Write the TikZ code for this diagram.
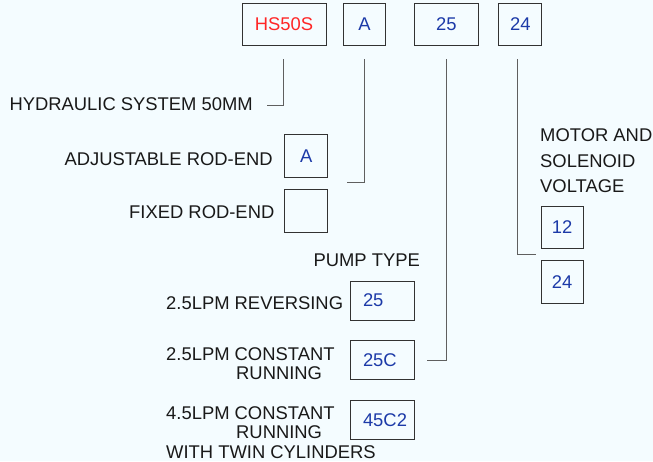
\documentclass[tikz,border=0pt]{standalone}
\usepackage{fontspec}
\setmainfont{Liberation Sans}
\usetikzlibrary{calc}
\definecolor{bgc}{RGB}{244,252,255}
\definecolor{redv}{RGB}{255,38,38}
\definecolor{bluev}{RGB}{28,58,168}
\definecolor{linec}{RGB}{95,95,95}
\definecolor{boxc}{RGB}{50,50,50}
\definecolor{txtc}{RGB}{25,25,25}
\begin{document}
\begin{tikzpicture}[x=1pt,y=-1pt,
  every node/.style={font=\fontsize{18.4}{22}\selectfont},
  codebox/.style={draw=boxc,line width=1pt,inner sep=0pt,minimum height=42pt,text=bluev},
  pumpbox/.style={draw=boxc,line width=1pt,inner ysep=0pt,inner xsep=12.3pt,text width=39pt,align=left,minimum height=39pt,text=bluev},
  lbl/.style={inner sep=0pt,anchor=base west,text=txtc},
  lead/.style={draw=linec,line width=1pt}]
\fill[bgc] (0,0) rectangle (653,461);
\useasboundingbox (0,0) rectangle (653,461);
% top code boxes
\node[codebox,minimum width=84pt,text=redv] (hs) at (284,24) {HS50S};
\node[codebox,minimum width=42.4pt] (a) at (364.5,24) {A};
\node[codebox,minimum width=64pt] (p) at (446.3,24) {25};
\node[codebox,minimum width=42.7pt] (v) at (520.3,24) {24};
% option boxes
\node[codebox,minimum width=42.7pt,minimum height=43pt] (adj) at (306.3,155.8) {A\hspace{4pt}};
\node[codebox,minimum width=42.7pt,minimum height=43pt] (fix) at (306.3,210.7) {};
\node[codebox,minimum width=42.3pt,minimum height=42.3pt] (v12) at (562.2,227.2) {12};
\node[codebox,minimum width=42.3pt,minimum height=42.3pt] (v24) at (562.2,282) {24};
\node[pumpbox] (p25) at (382.5,300.5) {25};
\node[pumpbox] (p25c) at (382.5,360) {25C};
\node[pumpbox] (p45) at (382.5,419.8) {45C2};
% labels
\node[lbl] (lhyd) at (9.3,110) {HYDRAULIC SYSTEM 50MM};
\node[lbl] (ladj) at (64.3,165) {ADJUSTABLE ROD-END};
\node[lbl] (lfix) at (129,218.5) {FIXED ROD-END};
\node[lbl] (lmot1) at (540,141) {MOTOR AND};
\node[lbl] (lmot2) at (540,167) {SOLENOID};
\node[lbl] (lmot3) at (540,192.5) {VOLTAGE};
\node[lbl] (lpump) at (313.3,266.7) {PUMP TYPE};
\node[lbl] (lrev) at (166,309.3) {2.5LPM REVERSING};
\node[lbl] (lcr1) at (166,360) {2.5LPM CONSTANT};
\node[lbl] (lcr2) at (236,379) {RUNNING};
\node[lbl] (ltw1) at (166,419.3) {4.5LPM CONSTANT};
\node[lbl] (ltw2) at (236,438.3) {RUNNING};
\node[lbl] (ltw3) at (166,458.3) {WITH TWIN CYLINDERS};
% connector ends
\coordinate (hsend) at (266.7,105);
\coordinate (aend) at (346.7,182.3);
\coordinate (pend) at (426.7,360.7);
\coordinate (vend) at (535.7,254);
% connectors
\draw[lead] ($(hs.south)+(-0.7,13.7)$) |- (hsend);
\draw[lead] ($(a.south)+(-0.5,13.7)$) |- (aend);
\draw[lead] ($(p.south)+(-0.3,13.7)$) |- (pend);
\draw[lead] ($(v.south)+(-2.6,13.7)$) |- (vend);
\end{tikzpicture}
\end{document}
